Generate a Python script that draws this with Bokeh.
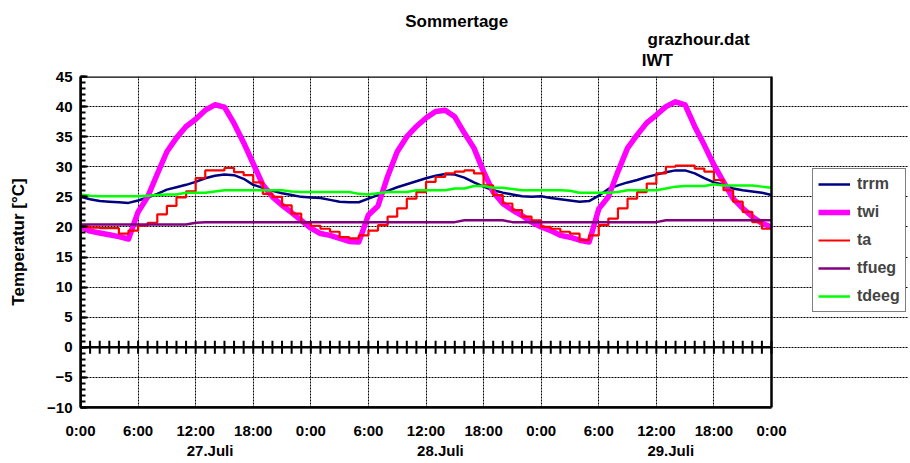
import math
from bokeh.plotting import figure
from bokeh.models import (FixedTicker, LinearAxis, Grid, Range1d, BoxAnnotation,
                          Legend, LegendItem)
from bokeh.embed import file_html
from bokeh.resources import INLINE

# ---------------- data (hourly, 27.-29. Juli, 0..72 h) ----------------
hours = list(range(73))

trrm = [25.0, 24.6, 24.3, 24.2, 24.1, 24.0, 24.4, 24.9, 25.5, 26.2, 26.6, 27.0,
        27.5, 28.1, 28.5, 28.7, 28.6, 28.0, 27.0, 26.5, 26.0, 25.6, 25.3, 25.0,
        24.9, 24.8, 24.5, 24.2, 24.1, 24.1, 24.7, 25.3, 26.0, 26.6, 27.1, 27.6,
        28.1, 28.5, 28.8, 28.7, 28.2, 27.4, 26.7, 26.1, 25.7, 25.4, 25.1, 25.0,
        25.1, 24.8, 24.6, 24.4, 24.2, 24.3, 25.2, 26.3, 26.9, 27.4, 27.8, 28.3,
        28.7, 29.1, 29.4, 29.4, 28.9, 28.1, 27.4, 27.0, 26.4, 26.1, 25.9, 25.7,
        25.3]

twi = [20.0, 19.3, 19.0, 18.7, 18.4, 18.0, 22.5, 25.0, 28.8, 32.5, 34.8, 36.7,
       37.9, 39.4, 40.3, 39.9, 37.2, 34.0, 30.5, 27.0, 25.0, 23.6, 22.4, 21.1,
       19.8, 18.9, 18.6, 18.1, 17.6, 17.5, 22.0, 23.5, 28.4, 32.5, 35.0, 36.7,
       38.1, 39.2, 39.4, 38.3, 35.6, 33.1, 29.2, 25.8, 23.9, 22.8, 21.9, 20.8,
       20.0, 19.4, 18.6, 18.3, 17.8, 17.5, 23.0, 25.0, 29.2, 33.1, 35.3, 37.3,
       38.6, 40.0, 40.8, 40.3, 36.7, 33.6, 30.3, 27.5, 24.7, 23.1, 21.7, 20.6,
       20.0]

ta = [20.0, 19.9, 19.8, 19.8, 18.9, 19.4, 20.2, 20.7, 22.1, 23.5, 24.9, 25.9,
      28.1, 29.4, 29.4, 29.8, 29.1, 28.6, 27.4, 25.5, 25.0, 23.6, 22.2, 20.7,
      20.2, 19.7, 19.2, 18.3, 18.1, 18.6, 19.4, 20.3, 21.7, 23.1, 24.7, 25.8,
      27.5, 28.3, 28.9, 29.2, 29.4, 28.9, 26.9, 25.3, 23.9, 22.8, 21.7, 21.1,
      20.0, 19.7, 19.2, 18.9, 17.8, 18.6, 20.3, 21.4, 23.1, 24.7, 25.8, 27.2,
      28.9, 30.0, 30.2, 30.2, 29.7, 29.2, 27.8, 26.1, 24.2, 22.5, 20.8, 19.7,
      19.7]

tfueg = [20.4, 20.4, 20.4, 20.4, 20.4, 20.4, 20.4, 20.4, 20.4, 20.4, 20.4, 20.4,
         20.7, 20.8, 20.8, 20.8, 20.8, 20.8, 20.8, 20.8, 20.8, 20.8, 20.8, 20.8,
         20.8, 20.8, 20.8, 20.8, 20.8, 20.8, 20.8, 20.8, 20.8, 20.8, 20.8, 20.8,
         20.8, 20.8, 20.8, 20.8, 21.1, 21.1, 21.1, 21.1, 21.1, 20.8, 20.8, 20.8,
         20.8, 20.8, 20.8, 20.8, 20.8, 20.8, 20.8, 20.8, 20.8, 20.8, 20.8, 20.8,
         20.8, 21.1, 21.1, 21.1, 21.1, 21.1, 21.1, 21.1, 21.1, 21.1, 21.1, 21.1,
         21.1]

tdeeg = [25.4, 25.2, 25.1, 25.1, 25.1, 25.1, 25.1, 25.2, 25.3, 25.4, 25.4, 25.7,
         25.7, 25.7, 25.9, 26.1, 26.1, 26.1, 26.1, 26.1, 26.1, 26.1, 25.9, 25.8,
         25.8, 25.8, 25.8, 25.8, 25.8, 25.5, 25.4, 25.6, 25.8, 25.8, 25.8, 26.1,
         26.1, 26.1, 26.1, 26.4, 26.4, 26.8, 26.8, 26.5, 26.5, 26.3, 26.1, 26.1,
         26.1, 26.1, 26.1, 26.0, 25.7, 25.7, 25.7, 25.7, 25.8, 26.1, 26.1, 26.1,
         26.1, 26.4, 26.7, 26.8, 26.8, 26.8, 27.1, 26.9, 26.9, 26.9, 26.9, 26.7,
         26.5]

xticks = [0, 6, 12, 18, 24, 30, 36, 42, 48, 54, 60, 66, 72]
xlabels = ["0:00", "6:00", "12:00", "18:00", "0:00", "6:00", "12:00", "18:00",
           "0:00", "6:00", "12:00", "18:00", "0:00"]
yticks = [-10, -5, 0, 5, 10, 15, 20, 25, 30, 35, 40, 45]
dates = ["27.Juli", "28.Juli", "29.Juli"]

FONT = "Liberation Sans"

# ---------------- figure ----------------
# the frame is widened to the right so that the legend can sit inside it;
# the chart body itself spans 0..72 h over 691 px
W, H = 908, 463
LEFT, TOP, BOTTOM = 80, 76, 407
T0, T1 = 0, 72
X_END = T1 * (W - LEFT) / 691.0
p = figure(width=W, height=H, output_backend="svg", toolbar_location=None,
           x_range=Range1d(T0, X_END), y_range=Range1d(-10, 45),
           x_axis_type=None, y_axis_type=None, title_location=None,
           min_border_left=LEFT, min_border_right=0, min_border_top=TOP,
           min_border_bottom=H - BOTTOM)
p.outline_line_color = None
p.background_fill_color = "white"
p.border_fill_color = "white"

# grids (limited to the chart body)
p.add_layout(Grid(dimension=0, ticker=FixedTicker(ticks=xticks), bounds=(-10, 45),
                  grid_line_color="black", grid_line_dash="2 1", grid_line_width=1),
             "center")
p.add_layout(Grid(dimension=1, ticker=FixedTicker(ticks=yticks), bounds=(T0, T1),
                  grid_line_color="black", grid_line_dash="2 1", grid_line_width=1),
             "center")
# zero line (zero-height box over the chart body)
p.add_layout(BoxAnnotation(left=T0, right=T1, bottom=0, top=0, fill_alpha=0,
                           line_color="black", line_width=2.5, line_alpha=1))
# chart border
p.add_layout(BoxAnnotation(left=T0, right=T1, bottom=-10, top=45, fill_alpha=0,
                           line_color="black", line_width=2.5, line_alpha=1))


def text_axis(ticks, labels, size, standoff, **kw):
    return LinearAxis(ticker=FixedTicker(ticks=ticks),
                      major_label_overrides={t: l for t, l in zip(ticks, labels)},
                      major_label_text_font=FONT, major_label_text_font_style="bold",
                      major_label_text_font_size=size, major_label_standoff=standoff,
                      major_label_text_color="black",
                      major_tick_in=0, major_tick_out=0, minor_tick_in=0,
                      minor_tick_out=0, **kw)


# axes
yaxis = LinearAxis(ticker=FixedTicker(ticks=yticks, minor_ticks=list(range(-10, 46))),
                   axis_label="Temperatur [°C]",
                   axis_label_text_font=FONT, axis_label_text_font_style="bold",
                   axis_label_text_font_size="17px", axis_label_standoff=16,
                   axis_label_text_color="black",
                   major_label_text_font=FONT, major_label_text_font_style="bold",
                   major_label_text_font_size="15px", major_label_standoff=8,
                   major_label_text_color="black",
                   major_tick_in=7, major_tick_out=0, minor_tick_in=5, minor_tick_out=0,
                   major_tick_line_width=2, minor_tick_line_width=2,
                   axis_line_width=2.5)
p.add_layout(yaxis, "left")

p.add_layout(text_axis(xticks, xlabels, "15px", 14, axis_line_width=2.5,
                       bounds=(T0, T1)), "below")
date_ticks = [24 * i + 13.5 for i in range(len(dates))]
p.add_layout(text_axis(date_ticks, dates, "15px", 0, axis_line_color=None), "below")

# header texts (first added sits nearest the frame)
p.add_layout(text_axis([60.1], ["IWT"], "17px", 7, axis_line_color=None), "above")
p.add_layout(text_axis([64.4], ["grazhour.dat"], "17px", -1, axis_line_color=None), "above")
p.add_layout(text_axis([39.2], ["Sommertage"], "17px", -4, axis_line_color=None), "above")

# hourly ticks across the zero line
p.scatter(hours, [0] * len(hours), marker="dash", angle=math.pi / 2, size=13,
          line_color="black", line_width=2)

# series
r_trrm = p.line(hours, trrm, line_color="#000080", line_width=2.5, line_join="round")
r_twi = p.line(hours, twi, line_color="#FF00FF", line_width=5.5, line_join="round")
r_ta = p.step(hours, ta, mode="after", line_color="#FF0000", line_width=2.2)
r_tfueg = p.line(hours, tfueg, line_color="#800080", line_width=2.5)
r_tdeeg = p.line(hours, tdeeg, line_color="#00FF00", line_width=2.5)

legend = Legend(items=[LegendItem(label="trrm", renderers=[r_trrm]),
                       LegendItem(label="twi", renderers=[r_twi]),
                       LegendItem(label="ta", renderers=[r_ta]),
                       LegendItem(label="tfueg", renderers=[r_tfueg]),
                       LegendItem(label="tdeeg", renderers=[r_tdeeg])],
                location=(732, 95), padding=5, spacing=8, margin=0,
                glyph_width=32, glyph_height=20, label_height=20, label_standoff=7,
                label_text_font=FONT, label_text_font_style="bold",
                label_text_font_size="16px",
                border_line_color="black", border_line_width=1.5,
                background_fill_color="white", background_fill_alpha=1.0)
p.add_layout(legend, "center")

open("out.html", "w").write(file_html(p, INLINE))
